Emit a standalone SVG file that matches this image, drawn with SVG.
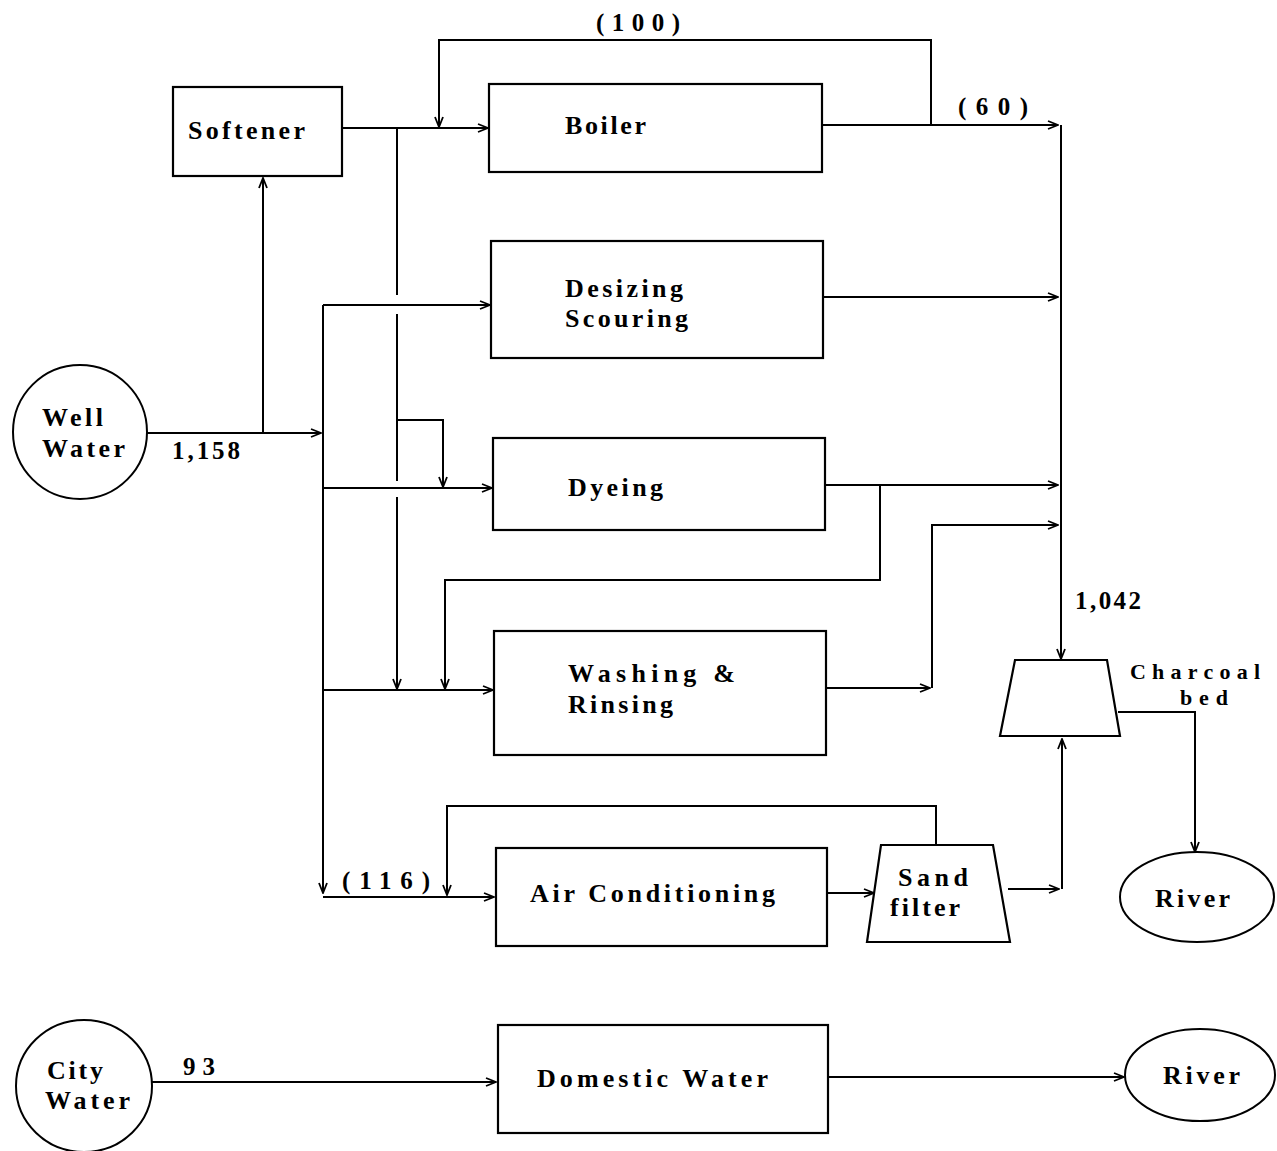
<svg xmlns="http://www.w3.org/2000/svg" width="1277" height="1151" viewBox="0 0 1277 1151" font-family="Liberation Serif, DejaVu Serif, serif">
<defs>
<style>
.box{fill:#fff;stroke:#000;stroke-width:2.2}
.ln{fill:none;stroke:#000;stroke-width:2}
.t{font-size:26px;font-weight:bold;fill:#000}
.n{font-size:25px;font-weight:bold;fill:#000}
.s{font-size:22px;font-weight:bold;fill:#000}
</style>
<marker id="a" viewBox="0 0 12 10" refX="11" refY="5" markerWidth="12" markerHeight="10" markerUnits="userSpaceOnUse" orient="auto">
<path d="M1,1 L11,5 L1,9" fill="none" stroke="#000" stroke-width="1.8"/>
</marker>
</defs>
<rect width="1277" height="1151" fill="#fff"/>

<g id="connectors">
<path class="ln" d="M147,433 H321" marker-end="url(#a)"/>
<path class="ln" d="M263,433 V178" marker-end="url(#a)"/>
<path class="ln" d="M342,128 H488" marker-end="url(#a)"/>
<path class="ln" d="M822,125 H1058" marker-end="url(#a)"/>
<path class="ln" d="M931,125 V40 H439 V127" marker-end="url(#a)"/>
<path class="ln" d="M397,128 V295"/>
<path class="ln" d="M397,314 V481"/>
<path class="ln" d="M397,497 V689" marker-end="url(#a)"/>
<path class="ln" d="M397,420 H443 V487" marker-end="url(#a)"/>
<path class="ln" d="M323,305 V893" marker-end="url(#a)"/>
<path class="ln" d="M323,897 H494" marker-end="url(#a)"/>
<path class="ln" d="M323,305 H490" marker-end="url(#a)"/>
<path class="ln" d="M323,488 H492" marker-end="url(#a)"/>
<path class="ln" d="M323,690 H493" marker-end="url(#a)"/>
<path class="ln" d="M823,297 H1058" marker-end="url(#a)"/>
<path class="ln" d="M825,485 H1058" marker-end="url(#a)"/>
<path class="ln" d="M880,485 V580 H445 V689" marker-end="url(#a)"/>
<path class="ln" d="M826,688 H930" marker-end="url(#a)"/>
<path class="ln" d="M932,688 V525 H1058" marker-end="url(#a)"/>
<path class="ln" d="M1061,125 V659" marker-end="url(#a)"/>
<path class="ln" d="M936,845 V806 H447 V895" marker-end="url(#a)"/>
<path class="ln" d="M827,893 H874" marker-end="url(#a)"/>
<path class="ln" d="M1008,889 H1059" marker-end="url(#a)"/>
<path class="ln" d="M1062,889 V739" marker-end="url(#a)"/>
<path class="ln" d="M1118,712 H1195 V852" marker-end="url(#a)"/>
<path class="ln" d="M152,1082 H496" marker-end="url(#a)"/>
<path class="ln" d="M828,1077 H1124" marker-end="url(#a)"/>
<text class="n" x="596" y="31" textLength="84" lengthAdjust="spacing">(100)</text>
<text class="n" x="958" y="115" textLength="70" lengthAdjust="spacing">(60)</text>
<text class="n" x="172" y="459" textLength="68" lengthAdjust="spacing">1,158</text>
<text class="n" x="1075" y="609" textLength="66" lengthAdjust="spacing">1,042</text>
<text class="n" x="342" y="889" textLength="88" lengthAdjust="spacing">(116)</text>
<text class="n" x="183" y="1075" textLength="32" lengthAdjust="spacing">93</text>
</g>

<g id="well-water">
<circle cx="80" cy="432" r="67" fill="#fff" stroke="#000" stroke-width="2"/>
<text class="t" x="42" y="426" textLength="61" lengthAdjust="spacing">Well</text>
<text class="t" x="42" y="457" textLength="83" lengthAdjust="spacing">Water</text>
</g>

<g id="softener">
<rect class="box" x="173" y="87" width="169" height="89"/>
<text class="t" x="188" y="139" textLength="117" lengthAdjust="spacing">Softener</text>
</g>

<g id="boiler">
<rect class="box" x="489" y="84" width="333" height="88"/>
<text class="t" x="565" y="134" textLength="81" lengthAdjust="spacing">Boiler</text>
</g>

<g id="desizing">
<rect class="box" x="491" y="241" width="332" height="117"/>
<text class="t" x="565" y="297" textLength="118" lengthAdjust="spacing">Desizing</text>
<text class="t" x="565" y="327" textLength="123" lengthAdjust="spacing">Scouring</text>
</g>

<g id="dyeing">
<rect class="box" x="493" y="438" width="332" height="92"/>
<text class="t" x="568" y="496" textLength="95" lengthAdjust="spacing">Dyeing</text>
</g>

<g id="washing">
<rect class="box" x="494" y="631" width="332" height="124"/>
<text class="t" x="568" y="682" textLength="167" lengthAdjust="spacing">Washing  &amp;</text>
<text class="t" x="568" y="713" textLength="105" lengthAdjust="spacing">Rinsing</text>
</g>

<g id="air-conditioning">
<rect class="box" x="496" y="848" width="331" height="98"/>
<text class="t" x="530" y="902" textLength="245" lengthAdjust="spacing">Air  Conditioning</text>
</g>

<g id="sand-filter">
<polygon class="box" points="881,845 993,845 1010,942 867,942"/>
<text class="t" x="898" y="886" textLength="70" lengthAdjust="spacing">Sand</text>
<text class="t" x="890" y="916" textLength="70" lengthAdjust="spacing">filter</text>
</g>

<g id="charcoal-bed">
<polygon class="box" points="1015,660 1107,660 1120,736 1000,736"/>
<text class="s" x="1130" y="679" textLength="130" lengthAdjust="spacing">Charcoal</text>
<text class="s" x="1180" y="705" textLength="48" lengthAdjust="spacing">bed</text>
</g>

<g id="river-1">
<ellipse cx="1197" cy="897" rx="77" ry="45" fill="#fff" stroke="#000" stroke-width="2"/>
<text class="t" x="1155" y="907" textLength="75" lengthAdjust="spacing">River</text>
</g>

<g id="city-water">
<ellipse cx="84" cy="1086" rx="68" ry="66" fill="#fff" stroke="#000" stroke-width="2"/>
<text class="t" x="47" y="1079" textLength="56" lengthAdjust="spacing">City</text>
<text class="t" x="45" y="1109" textLength="85" lengthAdjust="spacing">Water</text>
</g>

<g id="domestic-water">
<rect class="box" x="498" y="1025" width="330" height="108"/>
<text class="t" x="537" y="1087" textLength="231" lengthAdjust="spacing">Domestic  Water</text>
</g>

<g id="river-2">
<ellipse cx="1200" cy="1075" rx="75" ry="46" fill="#fff" stroke="#000" stroke-width="2"/>
<text class="t" x="1163" y="1084" textLength="77" lengthAdjust="spacing">River</text>
</g>
</svg>
